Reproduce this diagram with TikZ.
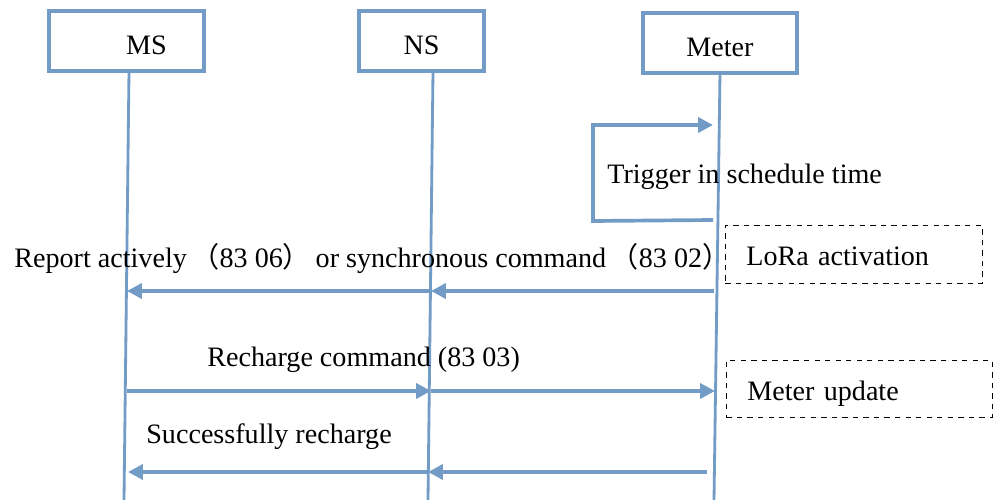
\documentclass[tikz,border=0pt]{standalone}
\usepackage{fontspec}
\setmainfont{Liberation Serif}
\newfontfamily\cjk{Noto Sans CJK SC}
\usepackage{tikz}
\usetikzlibrary{arrows.meta}
\definecolor{lineblue}{RGB}{114,155,198}

\begin{document}
\begin{tikzpicture}[x=0.02cm,y=-0.02cm,
	actor/.style={draw=lineblue, line width=1.8pt, minimum height=1.2cm, text height=15pt, text depth=0pt, font=\fontsize{16}{18}\selectfont},
	life/.style={lineblue, line width=1.6pt},
	msg/.style={lineblue, line width=2.1pt, -{Triangle[length=8.5pt,width=8.5pt]}},
	note/.style={draw, dashed, thin, anchor=north west, align=left, text height=13pt, text depth=0pt, font=\fontsize{16}{18}\selectfont},
	lbl/.style={anchor=west, inner sep=0pt, font=\fontsize{16}{18}\selectfont}]

	\useasboundingbox (0,0) rectangle (994,500);

	% the three parties
	\node [actor, minimum width=3.1cm] (ms) at (126.5,41) {\hspace{0.8cm}MS};
	\node [actor, minimum width=2.5cm] (ns) at (421.5,41) {NS};
	\node [actor, minimum width=3.08cm] (mt) at (720,43) {Meter};

	\coordinate (msTop) at (129,71);
	\coordinate (msBot) at (124,500);
	\coordinate (nsTop) at (433,71);
	\coordinate (nsBot) at (428,500);
	\coordinate (mtTop) at (720,73);
	\coordinate (mtBot) at (714,500);

	\draw [life] (msTop) -- (msBot);
	\draw [life] (nsTop) -- (nsBot);
	\draw [life] (mtTop) -- (mtBot);

	% trigger loop
	\coordinate (trigA) at (713,220);
	\coordinate (trigB) at (713,125);
	\draw [msg] (trigA) -- (593,221) |- (trigB);
	\node [lbl] (trig) at (607,177) {Trigger in schedule time};

	% report
	\coordinate (mtA) at (714,291);
	\coordinate (nsA) at (431,291);
	\coordinate (msA) at (127,291);
	\draw [msg] (mtA) -- (nsA);
	\draw [msg] (nsA) -- (msA);
	\node [lbl] (report) at (14,259) {Report actively\,{\cjk （}83 06{\cjk ）}\,or synchronous command\,{\cjk （}83 02{\cjk ）}};
	\node [note, minimum height=1.16cm, inner xsep=0.42cm, text width=4.3cm] (lora) at (725,225) {LoRa activation};

	% recharge
	\coordinate (msB) at (127,391);
	\coordinate (nsB) at (431,391);
	\coordinate (mtB) at (715,391);
	\draw [msg] (msB) -- (nsB);
	\draw [msg] (nsB) -- (mtB);
	\node [lbl] (recharge) at (207,360) {Recharge command (83 03)};
	\node [note, minimum height=1.14cm, inner xsep=0.42cm, text width=4.48cm] (update) at (726,360) {Meter update};

	% answer
	\coordinate (mtC) at (707,472);
	\coordinate (nsC) at (428,472);
	\coordinate (msC) at (128,472);
	\draw [msg] (mtC) -- (nsC);
	\draw [msg] (nsC) -- (msC);
	\node [lbl] (success) at (146,437) {Successfully recharge};

\end{tikzpicture}
\end{document}
